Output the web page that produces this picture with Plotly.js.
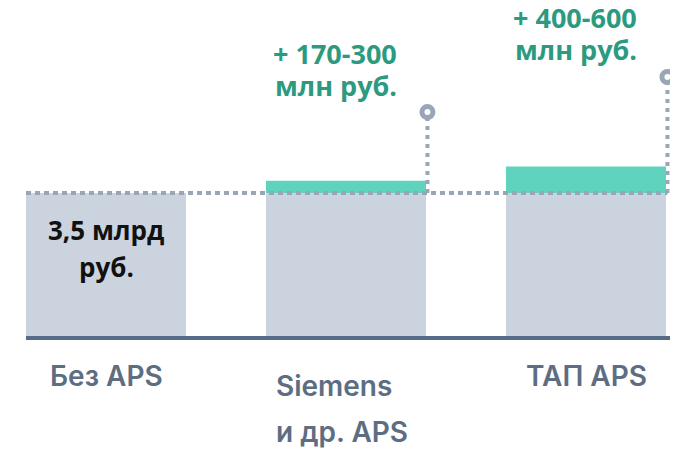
<!DOCTYPE html>
<html>
<head>
<meta charset="utf-8">
<script src="https://cdn.plot.ly/plotly-3.0.1.min.js"></script>
<style>
  html, body { margin: 0; padding: 0; background: #ffffff; }
  #chart { width: 682px; height: 452px; }
</style>
</head>
<body>
<div id="chart"></div>
<script>
// ---- data ----
const categories = ["Без APS", "Siemens и др. APS", "ТАП APS"];
const categoryLabelLines = [["Без APS"], ["Siemens", "и др. APS"], ["ТАП APS"]];
const baseValues = [3.5, 3.5, 3.5];
const gainValues = [0, 0.3, 0.65];
const markerLevels = [null, 5.48, 6.34];
const gainLabelLines = [[], ["+ 170-300", "млн руб."], ["+ 400-600", "млн руб."]];
const baseLabelLines = ["3,5 млрд", "руб."];

// ---- styles ----
const FONT = "'Open Sans', 'Noto Sans', sans-serif";
const LABEL_FONT = "Inter, 'Open Sans', sans-serif";
const GRAY_BAR = "#cbd3de";
const GREEN_BAR = "#5fd3bd";
const GREEN_TEXT = "#2b9a80";
const DOT_COLOR = "#9aa6b8";
const AXIS_COLOR = "#566b85";
const LABEL_COLOR = "#5d6d82";
const BAR_W = 2 / 3;

const xs = categories.map((_, i) => i);

const traces = [];
traces.push({
  type: "bar", x: xs, y: baseValues, width: BAR_W,
  marker: { color: GRAY_BAR, line: { width: 0 } },
  hoverinfo: "skip", showlegend: false
});
traces.push({
  type: "bar", x: xs, y: gainValues, base: baseValues, width: BAR_W,
  marker: { color: GREEN_BAR, line: { width: 0 } },
  hoverinfo: "skip", showlegend: false
});

// horizontal dotted reference line at base level
const xLeft = -BAR_W / 2;
const xRight = (xs.length - 1) + BAR_W / 2 + 0.006;
traces.push({
  type: "scatter", mode: "lines",
  x: [xLeft, xRight], y: [baseValues[0], baseValues[0]],
  line: { color: DOT_COLOR, width: 4, dash: "5px,4px" },
  hoverinfo: "skip", showlegend: false
});

const annotations = [];
const gainLineShifts = [59, 27];
xs.forEach((i) => {
  if (markerLevels[i] == null) return;
  const xv = i + BAR_W / 2 + 0.006;
  traces.push({
    type: "scatter", mode: "lines",
    x: [xv, xv], y: [baseValues[i], markerLevels[i]],
    line: { color: DOT_COLOR, width: 4, dash: "4px,5px" },
    hoverinfo: "skip", showlegend: false
  });
  traces.push({
    type: "scatter", mode: "markers",
    x: [xv], y: [markerLevels[i]],
    marker: { symbol: "circle", size: 11, color: "#ffffff", line: { color: DOT_COLOR, width: 5 } },
    hoverinfo: "skip", showlegend: false
  });
  gainLabelLines[i].forEach((line, k) => {
    annotations.push({
      x: i + BAR_W / 2, y: markerLevels[i], xref: "x", yref: "y",
      xanchor: "right", yanchor: "middle", align: "right",
      xshift: -28, yshift: gainLineShifts[k], borderpad: 0,
      text: line, showarrow: false,
      font: { family: FONT, size: 27, color: GREEN_TEXT, weight: 700 }
    });
  });
});

// label inside first bar
baseLabelLines.forEach((line, k) => {
  annotations.push({
    x: 0, y: baseValues[0], xref: "x", yref: "y",
    xanchor: "center", yanchor: "middle", align: "center",
    yshift: -(37 + k * 37), borderpad: 0,
    text: line, showarrow: false,
    font: { family: FONT, size: 26, color: "#111111", weight: 700 }
  });
});

// category labels below axis
const labelAnchor = ["center", "left", "center"];
categoryLabelLines.forEach((lines, i) => {
  lines.forEach((line, k) => {
    const left = labelAnchor[i] === "left";
    annotations.push({
      x: left ? i - BAR_W / 2 : i, y: 0, xref: "x", yref: "paper",
      xanchor: labelAnchor[i], yanchor: "middle",
      xshift: left ? 9 : 0, borderpad: 0,
      yshift: lines.length > 1 ? -(50 + k * 46) : -40,
      text: line, showarrow: false,
      font: { family: LABEL_FONT, size: 28, color: LABEL_COLOR, weight: 600 }
    });
  });
});

const layout = {
  width: 682, height: 452,
  margin: { l: 26, r: 12, t: 0, b: 116 },
  paper_bgcolor: "#ffffff", plot_bgcolor: "#ffffff",
  barmode: "overlay",
  showlegend: false,
  xaxis: {
    range: [-1 / 3, -1 / 3 + 644 / 240],
    showline: true, linecolor: AXIS_COLOR, linewidth: 4,
    showticklabels: false, ticks: "", showgrid: false, zeroline: false, fixedrange: true
  },
  yaxis: {
    range: [0, 336 / (143 / 3.5)],
    visible: false, showgrid: false, zeroline: false, fixedrange: true
  },
  annotations: annotations
};

Plotly.newPlot("chart", traces, layout, { displayModeBar: false, staticPlot: true });
</script>
</body>
</html>
